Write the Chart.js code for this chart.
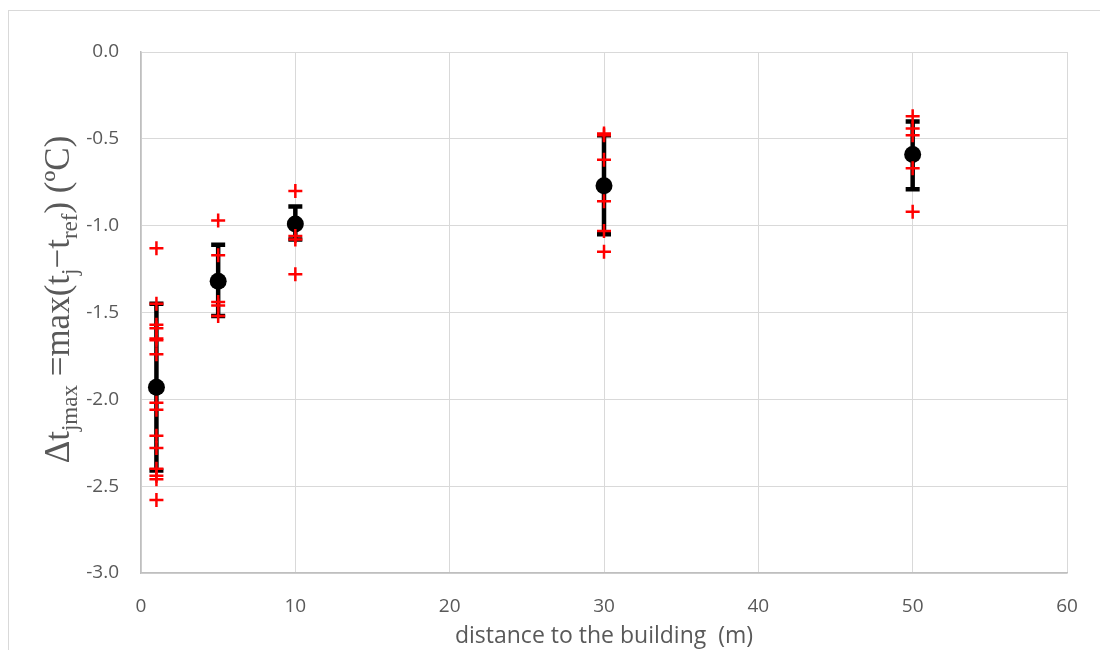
<!DOCTYPE html>
<html>
<head>
<meta charset="utf-8">
<script src="https://cdn.jsdelivr.net/npm/chart.js@4/dist/chart.umd.min.js"></script>
<style>
  html, body { margin: 0; padding: 0; background: #ffffff; }
  #wrap { position: relative; width: 1100px; height: 650px; overflow: hidden; }
</style>
</head>
<body>
<div id="wrap"><canvas id="tempChart" width="1100" height="650"></canvas></div>
<script>
// Distances (m) of the measuring points
const distances = [1, 5, 10, 30, 50];

// Individual measurements per distance (red crosses)
const obsAt1 = [-1.13, -1.45, -1.57, -1.59, -1.65, -1.66, -1.74, -2.02, -2.06, -2.21, -2.28, -2.40, -2.44, -2.46, -2.58];
const obsAt5 = [-0.97, -1.17, -1.44, -1.46, -1.52];
const obsAt10 = [-0.80, -1.06, -1.08, -1.28];
const obsAt30 = [-0.47, -0.48, -0.62, -0.86, -1.03, -1.15];
const obsAt50 = [-0.37, -0.44, -0.48, -0.67, -0.92];

// Mean value and error bar ends (black series)
const meanValues = [-1.93, -1.32, -0.99, -0.77, -0.59];
const errHigh = [-1.45, -1.11, -0.89, -0.48, -0.40];
const errLow = [-2.41, -1.52, -1.08, -1.05, -0.79];

// Axis ticks
const xTicks = [0, 10, 20, 30, 40, 50, 60];
const yTicks = [-3.0, -2.5, -2.0, -1.5, -1.0, -0.5, 0.0];

const GRID = "#d9d9d9";
const AXIS = "#bfbfbf";
const TEXT = "#595959";

function buildObservationPoints() {
  const groups = [obsAt1, obsAt5, obsAt10, obsAt30, obsAt50];
  const points = [];
  groups.forEach((group, i) => {
    group.forEach((v) => points.push({ x: distances[i], y: v }));
  });
  return points;
}

// Frame around the whole chart (Excel style border)
const framePlugin = {
  id: "frame",
  beforeDraw(chart) {
    const ctx = chart.ctx;
    ctx.save();
    ctx.strokeStyle = GRID;
    ctx.lineWidth = 1;
    ctx.strokeRect(8.5, 10.5, 1200, 1000);
    ctx.restore();
  },
};

// Error bars of the mean series, drawn through the scales
const errorBarPlugin = {
  id: "errorBars",
  beforeDatasetsDraw(chart) {
    const { ctx, scales } = chart;
    const xs = scales.x;
    const ys = scales.y;
    ctx.save();
    ctx.strokeStyle = "#000000";
    ctx.lineWidth = 4.5;
    distances.forEach((d, i) => {
      const px = xs.getPixelForValue(d);
      const top = ys.getPixelForValue(errHigh[i]);
      const bottom = ys.getPixelForValue(errLow[i]);
      ctx.beginPath();
      ctx.moveTo(px, top);
      ctx.lineTo(px, bottom);
      // caps
      ctx.moveTo(px - 7, top);
      ctx.lineTo(px + 7, top);
      ctx.moveTo(px - 7, bottom);
      ctx.lineTo(px + 7, bottom);
      ctx.stroke();
    });
    ctx.restore();
  },
};

// Y axis title with sub- and superscripts
const yTitlePlugin = {
  id: "yTitle",
  afterDraw(chart) {
    const ctx = chart.ctx;
    const area = chart.chartArea;
    const parts = [
      { t: "\u0394t", sub: false },
      { t: "jmax", sub: true },
      { t: " =max(t", sub: false },
      { t: "j", sub: true },
      { t: "\u2212t", sub: false },
      { t: "ref", sub: true },
      { t: ") (\u00baC)", sub: false },
    ];
    const mainFont = "35px 'Liberation Serif', 'DejaVu Serif', serif";
    const subFont = "23px 'Liberation Serif', 'DejaVu Serif', serif";
    ctx.save();
    let total = 0;
    parts.forEach((p) => {
      ctx.font = p.sub ? subFont : mainFont;
      p.w = ctx.measureText(p.t).width;
      total += p.w;
    });
    ctx.translate(69, (area.top + area.bottom) / 2 - 13);
    ctx.rotate(-Math.PI / 2);
    ctx.fillStyle = TEXT;
    ctx.textBaseline = "alphabetic";
    let x = -total / 2;
    parts.forEach((p) => {
      ctx.font = p.sub ? subFont : mainFont;
      ctx.fillText(p.t, x, p.sub ? 8 : 0);
      x += p.w;
    });
    ctx.restore();
  },
};

function initializeChart() {
  const canvas = document.getElementById("tempChart");
  if (!canvas) return;
  const ctx = canvas.getContext("2d");

  new Chart(ctx, {
    type: "scatter",
    data: {
      datasets: [
        {
          label: "measurements",
          data: buildObservationPoints(),
          pointStyle: "cross",
          pointRadius: 7,
          borderColor: "#ff0000",
          borderWidth: 2.5,
          pointHoverRadius: 7,
        },
        {
          label: "mean",
          data: distances.map((d, i) => ({ x: d, y: meanValues[i] })),
          pointStyle: "circle",
          pointRadius: 8.5,
          backgroundColor: "#000000",
          borderColor: "#000000",
          borderWidth: 0,
        },
      ],
    },
    options: {
      responsive: false,
      animation: false,
      layout: { padding: { top: 52, right: 33, left: 0, bottom: 0 } },
      plugins: {
        legend: { display: false },
        tooltip: { enabled: false },
      },
      scales: {
        x: {
          type: "linear",
          min: 0,
          max: 60,
          afterBuildTicks: (scale) => {
            scale.ticks = xTicks.map((v) => ({ value: v }));
          },
          afterFit: (scale) => {
            scale.height = 77;
          },
          grid: { color: GRID, drawTicks: false },
          border: { color: AXIS, width: 1.5 },
          ticks: {
            color: TEXT,
            padding: 22,
            font: { family: "'Open Sans', 'Liberation Sans', sans-serif", size: 19 },
          },
          title: {
            display: true,
            text: "distance to the building  (m)",
            color: TEXT,
            padding: { top: 0, bottom: 0 },
            font: { family: "'Open Sans', 'Liberation Sans', sans-serif", size: 23 },
          },
        },
        y: {
          type: "linear",
          min: -3,
          max: 0,
          afterBuildTicks: (scale) => {
            scale.ticks = yTicks.map((v) => ({ value: v }));
          },
          afterFit: (scale) => {
            scale.width = 141;
          },
          grid: { color: GRID, drawTicks: false },
          border: { color: AXIS, width: 1.5 },
          ticks: {
            color: TEXT,
            padding: 22,
            callback: (v) => v.toFixed(1),
            font: { family: "'Open Sans', 'Liberation Sans', sans-serif", size: 19 },
          },
        },
      },
    },
    plugins: [framePlugin, errorBarPlugin, yTitlePlugin],
  });
}

document.addEventListener("DOMContentLoaded", function () {
  initializeChart();
});
</script>
</body>
</html>
